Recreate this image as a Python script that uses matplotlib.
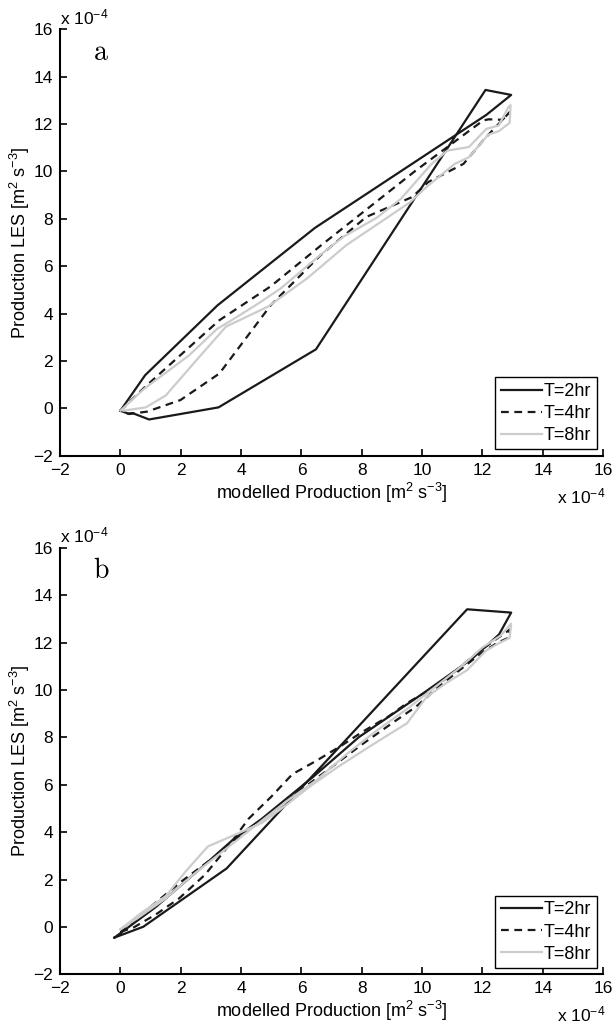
import matplotlib
matplotlib.use('Agg')
import matplotlib.pyplot as plt

plt.rcParams['font.family'] = ['Liberation Sans', 'DejaVu Sans']
plt.rcParams['mathtext.fontset'] = 'custom'
plt.rcParams['mathtext.rm'] = 'Liberation Sans'
plt.rcParams['mathtext.it'] = 'Liberation Sans:italic'

# all values in units of 1e-4 m^2 s^-3
labels = ['T=2hr', 'T=4hr', 'T=8hr']

# panel a
a_t2_x = [0.0, 0.82, 3.22, 6.45, 12.13, 12.95, 12.10, 6.48, 3.25, 0.95, 0.40, 0.25, 0.0]
a_t2_y = [-0.10, 1.40, 4.35, 7.62, 12.39, 13.23, 13.44, 2.49, 0.04, -0.47, -0.20, -0.22, -0.10]

a_t4_x = [0.0, 0.82, 3.28, 4.98, 6.62, 9.79, 12.02, 12.2, 12.66, 12.9, 12.07, 11.37,
          10.2, 9.67, 8.15, 6.62, 4.98, 3.28, 1.99, 0.88, 0.29, 0.0]
a_t4_y = [-0.10, 0.91, 3.72, 5.15, 6.85, 10.04, 12.15, 12.2, 12.18, 12.5, 11.38, 10.32,
          9.55, 8.92, 8.08, 6.45, 4.35, 1.47, 0.35, -0.14, -0.24, -0.10]

a_t8_x = [0.0, 0.78, 2.27, 3.2, 3.6, 4.6, 5.3, 6.0, 6.6, 7.4, 8.5, 9.3, 10.3, 10.84,
          11.55, 12.13, 12.54, 12.85, 12.93, 12.9, 12.54, 12.19, 11.55, 11.08, 10.14,
          9.6, 8.9, 7.5, 6.2, 4.9, 3.5, 2.6, 1.5, 0.84, 0.1]
a_t8_y = [-0.10, 0.82, 2.23, 3.35, 3.65, 4.45, 5.05, 5.8, 6.45, 7.25, 8.05, 8.85, 10.3,
          10.88, 11.03, 11.8, 11.94, 12.7, 12.8, 12.05, 11.7, 11.55, 10.6, 10.32, 9.34,
          8.7, 8.1, 6.9, 5.5, 4.3, 3.45, 2.15, 0.54, 0.04, -0.10]

# panel b
b_t2_x = [-0.2, 0.76, 3.52, 11.49, 12.95, 12.55, 11.66, 10.02, 7.91, 6.39, 4.69, 3.7,
          2.71, 1.17, -0.2]
b_t2_y = [-0.45, 0.01, 2.47, 13.41, 13.27, 12.35, 11.33, 9.85, 8.02, 6.34, 4.57, 3.65,
          2.53, 0.84, -0.45]

b_t4_x = [0.0, 0.4, 1.2, 1.94, 2.8, 3.6, 4.25, 5.0, 5.7, 6.5, 7.33, 8.0, 8.9, 9.5,
          10.1, 10.7, 11.2, 11.7, 12.4, 12.9, 12.85, 12.5, 12.0, 11.5, 10.6, 9.8, 9.0,
          8.0, 7.0, 6.0, 5.0, 4.0, 3.0, 2.0, 1.0, 0.3, 0.0]
b_t4_y = [-0.20, -0.05, 0.55, 1.2, 2.2, 3.45, 4.57, 5.5, 6.45, 7.02, 7.66, 8.22, 8.9,
          9.45, 9.9, 10.4, 10.9, 11.45, 12.1, 12.55, 12.2, 12.0, 11.6, 11.1, 10.2, 9.3,
          8.6, 7.7, 6.75, 5.8, 4.8, 3.85, 2.85, 1.9, 0.85, 0.1, -0.20]

b_t8_x = [0.0, 0.7, 1.5, 2.2, 2.9, 3.9, 4.7, 5.5, 6.3, 7.2, 8.3, 9.5, 10.14, 10.8,
          11.5, 12.1, 12.5, 12.9, 12.95, 12.6, 12.0, 11.3, 10.5, 9.5, 8.5, 7.5, 6.5,
          5.5, 4.5, 3.5, 2.5, 1.5, 0.6, 0.0]
b_t8_y = [-0.10, 0.6, 1.3, 2.4, 3.4, 3.95, 4.4, 5.15, 5.95, 6.75, 7.65, 8.6, 9.7,
          10.3, 10.85, 11.65, 11.95, 12.2, 12.8, 12.3, 11.8, 11.0, 10.2, 9.2, 8.3, 7.3,
          6.2, 5.3, 4.3, 3.3, 2.3, 1.2, 0.4, -0.10]

ticks = list(range(-2, 17, 2))
panels = [
    ('a', [(a_t2_x, a_t2_y), (a_t4_x, a_t4_y), (a_t8_x, a_t8_y)]),
    ('b', [(b_t2_x, b_t2_y), (b_t4_x, b_t4_y), (b_t8_x, b_t8_y)]),
]
styles = [
    dict(color='#1a1a1a', lw=1.6, ls='-'),
    dict(color='#1a1a1a', lw=1.6, ls=(0, (3.5, 2.5))),
    dict(color='#cccccc', lw=1.6, ls='-'),
]

fs = 12.5
fig = plt.figure(figsize=(6.13, 10.28), dpi=100)
rects = [[0.098, 0.5567, 0.886, 0.4148], [0.098, 0.0522, 0.886, 0.4148]]

for rect, (letter, series) in zip(rects, panels):
    ax = fig.add_axes(rect)
    for (x, y), lab, st in zip(series, labels, styles):
        ax.plot(x, y, label=lab, **st)

    ax.set_xlim(-2, 16)
    ax.set_ylim(-2, 16)
    ax.set_xticks(ticks)
    ax.set_yticks(ticks)
    ax.tick_params(direction='in', length=5, width=1.2, labelsize=fs, pad=5)
    for s in ['top', 'right']:
        ax.spines[s].set_visible(False)
    for s in ['left', 'bottom']:
        ax.spines[s].set_linewidth(1.5)

    ax.set_xlabel(r'modelled Production [m$^2$ s$^{-3}$]', fontsize=13, labelpad=2)
    ax.set_ylabel(r'Production LES [m$^2$ s$^{-3}$]', fontsize=13, labelpad=1)

    # matlab style exponent labels
    ax.text(0.0, 1.005, r'x 10$^{-4}$', transform=ax.transAxes, ha='left', va='bottom',
            fontsize=fs)
    ax.text(1.005, -0.095, r'x 10$^{-4}$', transform=ax.transAxes, ha='right', va='center',
            fontsize=fs)

    ax.text(0.06, 0.945, r'$\mathrm{%s}$' % letter, transform=ax.transAxes,
            fontsize=20, ha='left', va='center', math_fontfamily='cm')

    leg = ax.legend(loc='lower right', fontsize=13, fancybox=False, framealpha=1,
                    edgecolor='black', handlelength=2.3, handletextpad=0.1,
                    labelspacing=0.28, borderpad=0.3, borderaxespad=0.35)
    leg.get_frame().set_linewidth(1.0)

fig.savefig('out.png', dpi=100)
